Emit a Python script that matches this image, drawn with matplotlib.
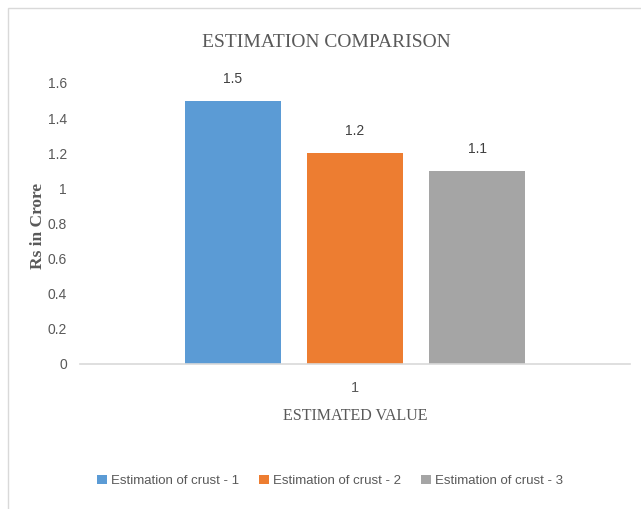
import numpy as np
import matplotlib
matplotlib.use('Agg')
import matplotlib.pyplot as plt
from matplotlib.patches import Rectangle

# data
series = ['Estimation of crust - 1', 'Estimation of crust - 2', 'Estimation of crust - 3']
values = [1.5, 1.2, 1.1]
colors = ['#5B9BD5', '#ED7D31', '#A5A5A5']
category = ['1']
yticks = [0, 0.2, 0.4, 0.6, 0.8, 1, 1.2, 1.4, 1.6]

sans = ['Liberation Sans Narrow', 'Liberation Sans', 'DejaVu Sans']
serif = ['Liberation Serif', 'DejaVu Serif']
grey = '#595959'

fig = plt.figure(figsize=(6.41, 5.09), dpi=100)
ax = fig.add_axes([80 / 641, 0.285, 550 / 641, 0.552])

# outer chart border (only top and left visible in the crop)
fig.patches.append(Rectangle((8 / 641, -0.1), 1.2, 1 - 8 / 509 + 0.1,
                             transform=fig.transFigure, fill=False,
                             edgecolor='#d9d9d9', linewidth=1))

offsets = np.arange(len(values)) - (len(values) - 1) / 2
for off, v, c, name in zip(offsets, values, colors, series):
    ax.bar(off, v, width=0.785, color=c, label=name)
    ax.text(off, v + 0.125, f'{v}', ha='center', va='center',
            fontsize=10, color='#404040', family=sans)

ax.set_xlim(-2.25, 2.25)
ax.set_ylim(0, 1.6)
ax.set_yticks(yticks)
ax.set_yticklabels([f'{t:g}' for t in yticks], family=sans, fontsize=10, color=grey)
ax.set_xticks([0])
ax.set_xticklabels(category, family=sans, fontsize=10.5, color=grey)
ax.tick_params(length=0)
ax.tick_params(axis='y', pad=9.5)
ax.tick_params(axis='x', pad=12)

for s in ['top', 'right', 'left']:
    ax.spines[s].set_visible(False)
ax.spines['bottom'].set_color('#d9d9d9')
ax.spines['bottom'].set_linewidth(1.2)

ax.set_ylabel('Rs in Crore', family=serif, fontsize=12.5, color=grey, fontweight='bold')
ax.yaxis.set_label_coords(-0.062, 0.49)
ax.set_xlabel('ESTIMATED VALUE', family=serif, fontsize=11.5, color=grey, labelpad=10)
fig.text(326 / 641, 0.917, 'ESTIMATION COMPARISON', ha='center', va='center',
         family=serif, fontsize=14, color=grey)

fig.legend(loc='center', bbox_to_anchor=(330 / 641, 0.055), ncol=3, frameon=False,
           prop={'family': sans, 'size': 9.5}, labelcolor=grey,
           handlelength=0.75, handleheight=0.75, handletextpad=0.3, columnspacing=1.5)

fig.savefig('out.png', dpi=100)
